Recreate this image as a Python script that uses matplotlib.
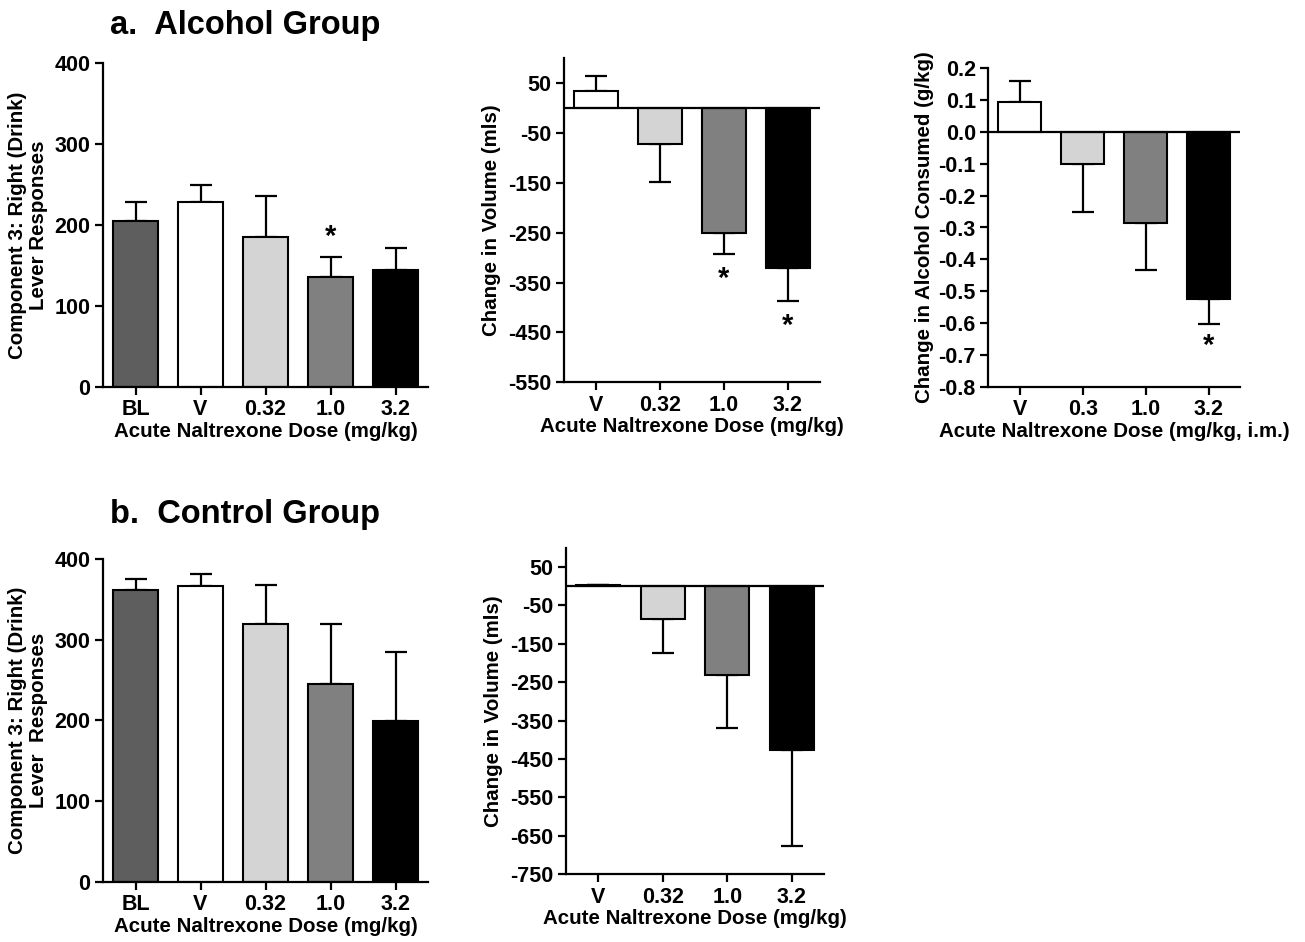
import matplotlib
matplotlib.use("Agg")
import matplotlib.pyplot as plt
import numpy as np

plt.rcParams['font.family'] = ['Liberation Sans', 'DejaVu Sans']
plt.rcParams['font.weight'] = 'bold'
plt.rcParams['axes.unicode_minus'] = False

# ---- data ----
doses_bl = ["BL", "V", "0.32", "1.0", "3.2"]
doses_v = ["V", "0.32", "1.0", "3.2"]
doses_v3 = ["V", "0.3", "1.0", "3.2"]

colors_bl = ["#5e5e5e", "#ffffff", "#d4d4d4", "#808080", "#000000"]
colors_v = colors_bl[1:]

# alcohol group
alc_resp = [205, 228, 185, 136, 144]
alc_resp_err = [23, 21, 51, 24, 28]
alc_vol = [35, -71, -251, -321]
alc_vol_err = [29, 78, 41, 65]
alc_gkg = [0.093, -0.102, -0.285, -0.524]
alc_gkg_err = [0.068, 0.150, 0.149, 0.080]

# control group
ctl_resp = [361, 367, 320, 245, 199]
ctl_resp_err = [14, 14, 48, 74, 86]
ctl_vol = [2, -87, -231, -426]
ctl_vol_err = [0, 88, 138, 250]

W, H = 1305, 942
fig = plt.figure(figsize=(W / 100, H / 100), dpi=100)

TICK_FS = 15.5
LAB_FS = 14.8


def px_axes(left, top, right, bottom):
    return fig.add_axes([left / W, 1 - bottom / H, (right - left) / W, (bottom - top) / H])


def style(ax):
    for s in ["top", "right"]:
        ax.spines[s].set_visible(False)
    for s in ["left", "bottom"]:
        ax.spines[s].set_linewidth(1.6)
    ax.tick_params(width=1.6, length=6, labelsize=TICK_FS, direction="out", pad=3)
    for lab in ax.get_xticklabels() + ax.get_yticklabels():
        lab.set_fontweight("bold")


def bars(ax, labels, vals, errs, colors):
    x = np.arange(len(vals))
    ax.bar(x, vals, width=0.68, color=colors, edgecolor="black", linewidth=1.5, zorder=2)
    lo = [e if v < 0 else 0 for v, e in zip(vals, errs)]
    hi = [e if v >= 0 else 0 for v, e in zip(vals, errs)]
    ax.errorbar(x, vals, yerr=[lo, hi], fmt="none", ecolor="black",
                elinewidth=1.6, capsize=8, capthick=1.6, zorder=1)
    ax.set_xticks(x)
    ax.set_xticklabels(labels)
    ax.set_xlim(-0.5, len(vals) - 0.5)
    style(ax)
    return x


xlab = "Acute Naltrexone Dose (mg/kg)"
resp_lab = "Component 3: Right (Drink)\nLever Responses"

# a1
ax = px_axes(103, 63.3, 428, 386.7)
x = bars(ax, doses_bl, alc_resp, alc_resp_err, colors_bl)
ax.set_ylim(0, 400)
ax.set_yticks([0, 100, 200, 300, 400])
ax.set_xlabel(xlab, fontsize=LAB_FS, fontweight="bold", labelpad=1)
ax.set_ylabel(resp_lab, fontsize=LAB_FS, fontweight="bold", linespacing=1.1, labelpad=5)
ax.text(x[3], alc_resp[3] + alc_resp_err[3] + 8, "*", ha="center", va="bottom",
        fontsize=21, fontweight="bold")
style(ax)

# a2
ax = px_axes(564, 58.3, 820, 382.3)
x = bars(ax, doses_v, alc_vol, alc_vol_err, colors_v)
ax.axhline(0, color="black", lw=1.6, zorder=3)
ax.set_ylim(-550, 100)
ax.set_yticks(np.arange(-550, 51, 100))
ax.set_xlabel(xlab, fontsize=LAB_FS, fontweight="bold", labelpad=1)
ax.set_ylabel("Change in Volume (mls)", fontsize=LAB_FS, fontweight="bold", labelpad=5)
for i in [2, 3]:
    ax.text(x[i], alc_vol[i] - alc_vol_err[i] - 22, "*", ha="center", va="top",
            fontsize=21, fontweight="bold")
style(ax)

# a3
ax = px_axes(988.3, 68.3, 1240, 386.7)
x = bars(ax, doses_v3, alc_gkg, alc_gkg_err, colors_v)
ax.axhline(0, color="black", lw=1.6, zorder=3)
ax.set_ylim(-0.8, 0.2)
gk_ticks = np.round(np.arange(-0.8, 0.21, 0.1), 1)
ax.set_yticks(gk_ticks)
ax.set_yticklabels([f"{t:.1f}" if t != 0 else "0.0" for t in gk_ticks])
ax.set_xlabel("Acute Naltrexone Dose (mg/kg, i.m.)", fontsize=LAB_FS, fontweight="bold", labelpad=1)
ax.set_ylabel("Change in Alcohol Consumed (g/kg)", fontsize=LAB_FS, fontweight="bold", labelpad=3)
ax.text(x[3], alc_gkg[3] - alc_gkg_err[3] - 0.025, "*", ha="center", va="top",
        fontsize=21, fontweight="bold")
style(ax)

# b1
ax = px_axes(103, 559, 428, 881.7)
bars(ax, doses_bl, ctl_resp, ctl_resp_err, colors_bl)
ax.set_ylim(0, 400)
ax.set_yticks([0, 100, 200, 300, 400])
ax.set_xlabel(xlab, fontsize=LAB_FS, fontweight="bold", labelpad=1)
ax.set_ylabel("Component 3: Right (Drink)\nLever  Responses", fontsize=LAB_FS, fontweight="bold",
              linespacing=1.1, labelpad=5)
style(ax)

# b2
ax = px_axes(566, 547.5, 824, 874.3)
bars(ax, doses_v, ctl_vol, ctl_vol_err, colors_v)
ax.axhline(0, color="black", lw=1.6, zorder=3)
ax.set_ylim(-750, 100)
ax.set_yticks(np.arange(-750, 51, 100))
ax.set_xlabel(xlab, fontsize=LAB_FS, fontweight="bold", labelpad=1)
ax.set_ylabel("Change in Volume (mls)", fontsize=LAB_FS, fontweight="bold", labelpad=5)
style(ax)

fig.text(110 / W, 1 - 34 / H, "a.  Alcohol Group", fontsize=23.5, fontweight="bold",
         ha="left", va="baseline")
fig.text(110 / W, 1 - 523 / H, "b.  Control Group", fontsize=23.5, fontweight="bold",
         ha="left", va="baseline")

fig.savefig("out.png", dpi=100, facecolor="white")
